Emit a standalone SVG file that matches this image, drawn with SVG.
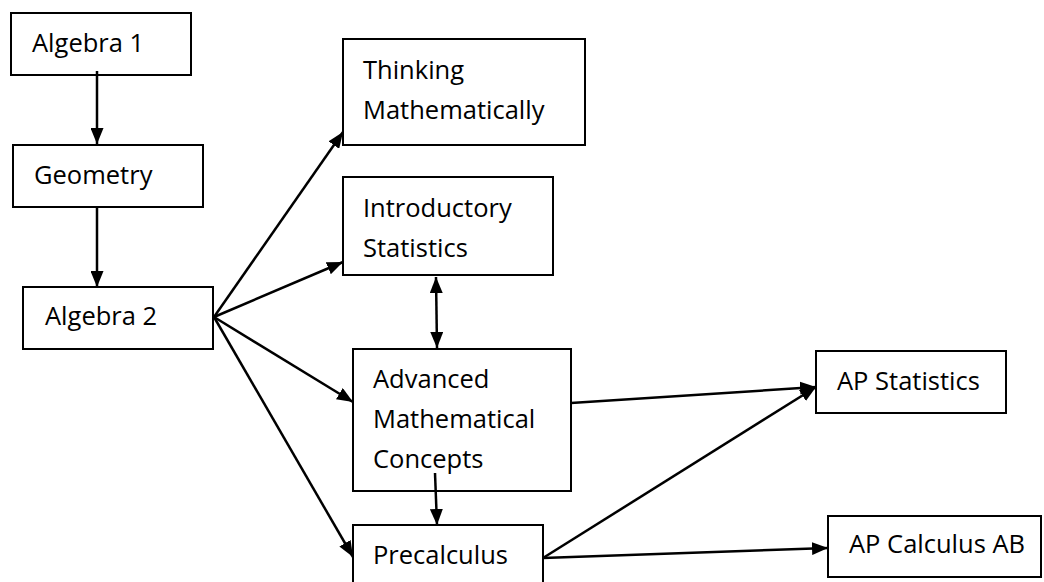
<svg xmlns="http://www.w3.org/2000/svg" width="1044" height="582" viewBox="0 0 1044 582">
<style>
.box{fill:#fff;stroke:#000;stroke-width:2}
.lbl{font-family:"Open Sans","Liberation Sans",sans-serif;font-size:25.5px;fill:#000}
.c{stroke:#000;stroke-width:2.5;fill:none;marker-end:url(#ah)}
</style>
<defs>
<marker id="ah" viewBox="0 0 16 13" refX="16" refY="6.5" markerWidth="16" markerHeight="13" markerUnits="userSpaceOnUse" orient="auto-start-reverse">
<path d="M0,0 L16,6.5 L0,13 Z" fill="#000"/>
</marker>
</defs>
<rect width="1044" height="582" fill="#fff"/>
<g id="algebra1"><rect class="box" x="11" y="13" width="180" height="62"/><text class="lbl" x="32" y="52">Algebra 1</text></g>
<g id="geometry"><rect class="box" x="13" y="145" width="190" height="62"/><text class="lbl" x="34" y="184">Geometry</text></g>
<g id="algebra2"><rect class="box" x="23" y="287" width="190" height="62"/><text class="lbl" x="45" y="325">Algebra 2</text></g>
<g id="thinking"><rect class="box" x="343" y="39" width="242" height="106"/><text class="lbl" x="363" y="79">Thinking</text><text class="lbl" x="363" y="119">Mathematically</text></g>
<g id="introstats"><rect class="box" x="343" y="177" width="210" height="98"/><text class="lbl" x="363" y="217">Introductory</text><text class="lbl" x="363" y="257">Statistics</text></g>
<g id="advanced"><rect class="box" x="353" y="349" width="218" height="142"/><text class="lbl" x="373" y="388">Advanced</text><text class="lbl" x="373" y="428">Mathematical</text><text class="lbl" x="373" y="468">Concepts</text></g>
<g id="precalculus"><rect class="box" x="353" y="525" width="190" height="70"/><text class="lbl" x="373" y="564">Precalculus</text></g>
<g id="apstats"><rect class="box" x="816" y="351" width="190" height="62"/><text class="lbl" x="837" y="390">AP Statistics</text></g>
<g id="apcalc"><rect class="box" x="828" y="516" width="213" height="61"/><text class="lbl" x="849" y="553">AP Calculus AB</text></g>
<g id="connectors">
<line class="c" x1="97" y1="71" x2="97" y2="144"/>
<line class="c" x1="97" y1="207" x2="97" y2="287"/>
<line class="c" x1="214" y1="317" x2="343" y2="132"/>
<line class="c" x1="214" y1="317" x2="343" y2="262"/>
<line class="c" x1="214" y1="317" x2="353" y2="402"/>
<line class="c" x1="214" y1="317" x2="353" y2="557"/>
<line class="c" x1="436" y1="277" x2="437" y2="348" marker-start="url(#ah)"/>
<line class="c" x1="435" y1="473" x2="437" y2="525"/>
<line class="c" x1="571" y1="403" x2="816" y2="387"/>
<line class="c" x1="543" y1="558" x2="816" y2="387"/>
<line class="c" x1="543" y1="558" x2="828" y2="548"/>
</g>
</svg>
